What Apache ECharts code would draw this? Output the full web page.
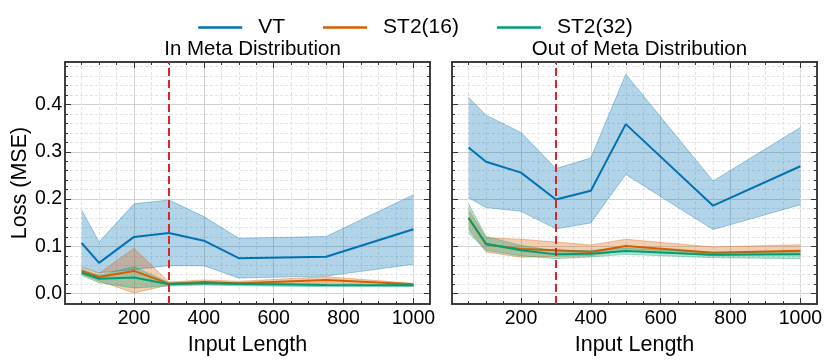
<!DOCTYPE html>
<html>
<head>
<meta charset="utf-8">
<script src="https://cdn.jsdelivr.net/npm/echarts@6/dist/echarts.min.js"></script>
<style>
  html, body { margin: 0; padding: 0; background: #fff; }
  #chart { width: 831px; height: 361px; }
</style>
</head>
<body>
<div id="chart"></div>
<script>
// input lengths on the x axis
const inputLength = [50, 100, 200, 300, 400, 500, 750, 1000]

// In Meta Distribution
const vtInMean = [0.107, 0.065, 0.120, 0.128, 0.112, 0.075, 0.078, 0.136]
const vtInUpper = [0.177, 0.109, 0.190, 0.198, 0.163, 0.117, 0.121, 0.209]
const vtInLower = [0.057, 0.044, 0.051, 0.059, 0.059, 0.033, 0.037, 0.062]
const st16InMean = [0.048, 0.035, 0.048, 0.021, 0.0245, 0.022, 0.0287, 0.0196]
const st16InUpper = [0.055, 0.043, 0.096, 0.0245, 0.029, 0.026, 0.0357, 0.0217]
const st16InLower = [0.041, 0.0266, 0.0015, 0.018, 0.021, 0.0196, 0.023, 0.0175]
const st32InMean = [0.044, 0.0315, 0.034, 0.0196, 0.0217, 0.0203, 0.018, 0.0175]
const st32InUpper = [0.051, 0.0385, 0.057, 0.023, 0.0245, 0.023, 0.021, 0.0196]
const st32InLower = [0.0385, 0.023, 0.012, 0.016, 0.018, 0.0167, 0.0147, 0.0147]

// Out of Meta Distribution
const vtOutMean = [0.309, 0.279, 0.256, 0.199, 0.2175, 0.3586, 0.186, 0.2695]
const vtOutUpper = [0.415, 0.3775, 0.341, 0.2646, 0.287, 0.464, 0.238, 0.3516]
const vtOutLower = [0.203, 0.182, 0.174, 0.137, 0.1495, 0.252, 0.1354, 0.188]
const st16OutMean = [0.1605, 0.104, 0.0944, 0.0915, 0.088, 0.1007, 0.0866, 0.0908]
const st16OutUpper = [0.178, 0.118, 0.115, 0.109, 0.103, 0.115, 0.0986, 0.1035]
const st16OutLower = [0.137, 0.088, 0.077, 0.079, 0.080, 0.0915, 0.080, 0.0845]
const st32OutMean = [0.160, 0.1056, 0.0915, 0.083, 0.0845, 0.090, 0.0824, 0.083]
const st32OutUpper = [0.190, 0.121, 0.102, 0.090, 0.0915, 0.096, 0.0873, 0.0887]
const st32OutLower = [0.128, 0.0915, 0.080, 0.074, 0.0775, 0.083, 0.076, 0.074]

// tick labels / tick positions
const xMajorTicks = [200, 400, 600, 800, 1000]
const xMinorTicks = [50, 100, 150, 250, 300, 350, 450, 500, 550, 650, 700, 750, 850, 900, 950, 1000]
const yMajorTicks = [0, 0.1, 0.2, 0.3, 0.4]
const yMinorTicks = [0.02, 0.04, 0.06, 0.08, 0.12, 0.14, 0.16, 0.18, 0.22, 0.24, 0.26, 0.28,
  0.32, 0.34, 0.36, 0.38, 0.42, 0.44, 0.46, 0.48]

const splitAt = 300
const titles = ['In Meta Distribution', 'Out of Meta Distribution']
const names = ['VT', 'ST2(16)', 'ST2(32)']
const colors = ['#0072B2', '#D55E00', '#009E73']

const FONT = '"Liberation Sans", Arial, sans-serif'
const axisColor = '#333'

const panels = [
  [[vtInMean, vtInUpper, vtInLower], [st16InMean, st16InUpper, st16InLower], [st32InMean, st32InUpper, st32InLower]],
  [[vtOutMean, vtOutUpper, vtOutLower], [st16OutMean, st16OutUpper, st16OutLower], [st32OutMean, st32OutUpper, st32OutLower]]
]

const grids = [
  { left: 65, top: 62, width: 365, height: 242 },
  { left: 452, top: 62, width: 365, height: 242 }
]

function tick (values, length) {
  return { show: true, inside: true, length: length, customValues: values, lineStyle: { color: axisColor, width: 1 } }
}

function makeXAxes (g) {
  const base = {
    type: 'value', gridIndex: g, min: 2.5, max: 1047.5,
    axisLine: { show: true, onZero: false, lineStyle: { color: axisColor, width: 1.5 } },
    axisLabel: { show: false }, splitLine: { show: false }
  }
  return [
    Object.assign({}, base, {
      position: 'bottom',
      name: 'Input Length', nameLocation: 'middle', nameGap: 22,
      nameTextStyle: { fontSize: 21.5, color: '#000', fontFamily: FONT },
      axisTick: tick(xMajorTicks, 6),
      axisLabel: { show: true, customValues: xMajorTicks, margin: 5, fontSize: 19.5, color: '#000', fontFamily: FONT,
        formatter: v => String(v) },
      splitLine: { show: true, lineStyle: { color: '#d2d2d2', width: 1 } }
    }),
    Object.assign({}, base, {
      position: 'bottom', axisTick: tick(xMinorTicks, 3),
      splitLine: { show: true, lineStyle: { color: '#e4e4e4', width: 1, type: [3, 2] } }
    }),
    Object.assign({}, base, { position: 'top', axisTick: tick(xMajorTicks, 6) }),
    Object.assign({}, base, { position: 'top', axisTick: tick(xMinorTicks, 3) })
  ]
}

function makeYAxes (g) {
  const base = {
    type: 'value', gridIndex: g, min: -0.022, max: 0.49,
    axisLine: { show: true, onZero: false, lineStyle: { color: axisColor, width: 1.5 } },
    axisLabel: { show: false }, splitLine: { show: false }
  }
  const major = Object.assign({}, base, {
    position: 'left', axisTick: tick(yMajorTicks, 6),
    splitLine: { show: true, lineStyle: { color: '#d2d2d2', width: 1 } }
  })
  if (g === 0) {
    Object.assign(major, {
      name: 'Loss (MSE)', nameLocation: 'middle', nameGap: 34,
      nameTextStyle: { fontSize: 21.5, color: '#000', fontFamily: FONT },
      axisLabel: { show: true, customValues: yMajorTicks, margin: 3, fontSize: 19.5, color: '#000', fontFamily: FONT,
        formatter: v => v.toFixed(1) }
    })
  }
  return [
    major,
    Object.assign({}, base, {
      position: 'left', axisTick: tick(yMinorTicks, 3),
      splitLine: { show: true, lineStyle: { color: '#e4e4e4', width: 1, type: [3, 2] } }
    }),
    Object.assign({}, base, { position: 'right', axisTick: tick(yMajorTicks, 6) }),
    Object.assign({}, base, { position: 'right', axisTick: tick(yMinorTicks, 3) })
  ]
}

// [y, x] so the stacked dimension is y
function pairs (ys) {
  return inputLength.map((x, i) => [ys[i], x])
}

let series = []
panels.forEach((panel, g) => {
  panel.forEach((m, k) => {
    const mean = m[0], upper = m[1], lower = m[2]
    const stack = 'band' + g + k
    const edge = { color: colors[k], width: 1, opacity: 0.35 }
    const common = { type: 'line', xAxisIndex: g * 4, yAxisIndex: g * 4, symbol: 'none', silent: true, encode: { x: 1, y: 0 } }
    series.push(Object.assign({}, common, {
      name: names[k] + ' band', stack: stack, lineStyle: edge,
      data: pairs(lower)
    }))
    series.push(Object.assign({}, common, {
      name: names[k] + ' band', stack: stack, lineStyle: edge,
      areaStyle: { color: colors[k], opacity: 0.3 },
      data: pairs(upper.map((u, i) => u - lower[i]))
    }))
    series.push(Object.assign({}, common, {
      name: names[k],
      itemStyle: { color: colors[k] },
      lineStyle: { color: colors[k], width: 2 },
      data: pairs(mean)
    }))
  })
  series[series.length - 1].markLine = {
    symbol: 'none', silent: true, animation: false,
    label: { show: false },
    lineStyle: { color: '#d62728', width: 2, type: [8, 4] },
    data: [{ xAxis: splitAt }]
  }
})

let myChart = echarts.init(document.getElementById('chart'))
myChart.setOption({
  animation: false,
  textStyle: { fontFamily: FONT },
  title: titles.map((t, g) => ({
    text: t,
    left: grids[g].left + grids[g].width / 2,
    textAlign: 'center',
    top: 34,
    textStyle: { fontSize: 20.5, fontWeight: 'normal', color: '#000', fontFamily: FONT }
  })),
  legend: {
    data: names,
    top: 12,
    left: 'center',
    icon: 'rect',
    itemWidth: 44,
    itemHeight: 2.5,
    itemGap: 38,
    textStyle: { fontSize: 21, color: '#000', fontFamily: FONT, padding: [0, 0, 0, 11] }
  },
  grid: grids,
  xAxis: makeXAxes(0).concat(makeXAxes(1)),
  yAxis: makeYAxes(0).concat(makeYAxes(1)),
  series: series
})
</script>
</body>
</html>
